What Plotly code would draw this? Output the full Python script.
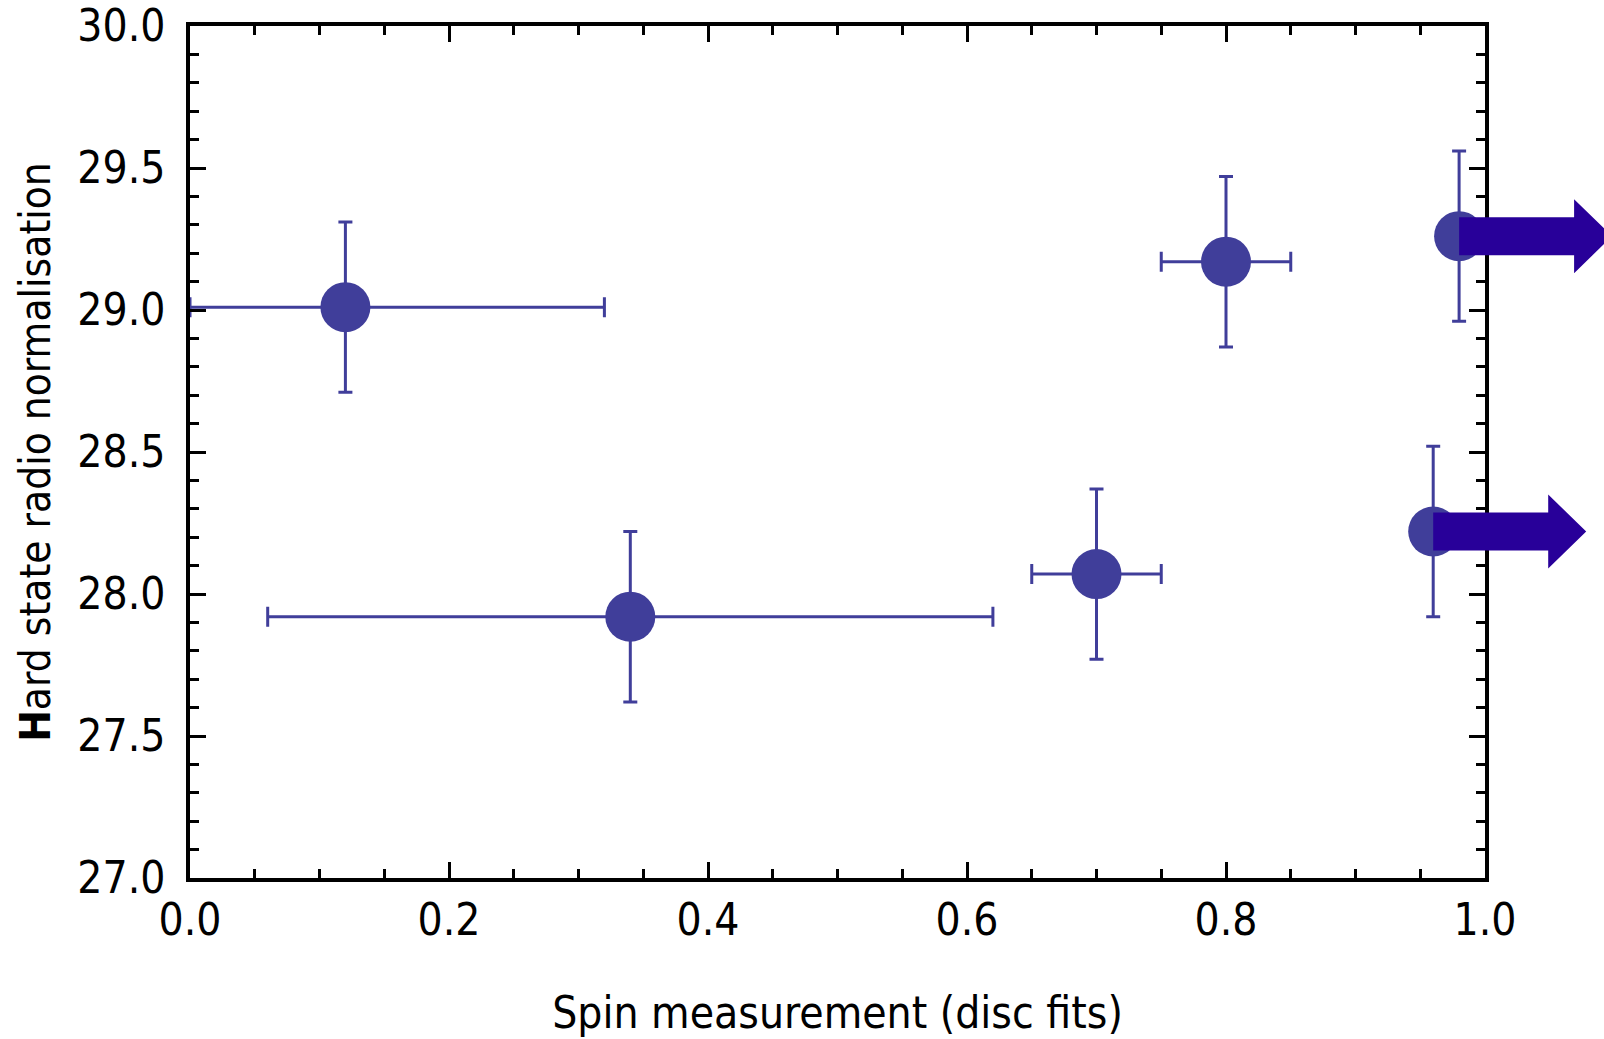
import plotly.graph_objects as go

# Data
spin = [0.12, 0.34, 0.70, 0.80]
spin_err_minus = [0.12, 0.28, 0.05, 0.05]
spin_err_plus = [0.20, 0.28, 0.05, 0.05]
norm = [29.01, 27.92, 28.07, 29.17]
norm_err = [0.30, 0.30, 0.30, 0.30]

# Lower limits on spin (arrows pointing right)
lim_spin = [0.98, 0.96]
lim_norm = [29.26, 28.22]
lim_norm_err = [0.30, 0.30]

x_range = [0.0, 1.0]
y_range = [27.0, 30.0]
x_ticks = [0.0, 0.2, 0.4, 0.6, 0.8, 1.0]
y_ticks = [27.0, 27.5, 28.0, 28.5, 29.0, 29.5, 30.0]

PT = "#403e9a"
ARROW = "#280099"
FONT = "Liberation Sans Narrow, DejaVu Sans Condensed, Arial Narrow, sans-serif"

fig = go.Figure()
fig.add_trace(go.Scatter(
    x=spin, y=norm, mode="markers",
    marker=dict(size=50, color=PT),
    error_x=dict(type="data", symmetric=False, array=spin_err_plus,
                 arrayminus=spin_err_minus, color=PT, thickness=3, width=10),
    error_y=dict(type="data", array=norm_err, color=PT, thickness=3, width=7),
    showlegend=False,
))
fig.add_trace(go.Scatter(
    x=lim_spin, y=lim_norm, mode="markers",
    marker=dict(size=50, color=PT),
    error_y=dict(type="data", array=lim_norm_err, color=PT, thickness=3, width=7),
    showlegend=False,
))

# Arrows anchored at the limit points (pixel-sized shapes)
for xv, yv in zip(lim_spin, lim_norm):
    px = (xv - x_range[0]) / (x_range[1] - x_range[0])
    py = (yv - y_range[0]) / (y_range[1] - y_range[0])
    path = "M0,19 L115,19 L115,37 L153,0 L115,-37 L115,-19 L0,-19 Z"
    fig.add_shape(type="path", xref="paper", yref="paper",
                  xsizemode="pixel", ysizemode="pixel",
                  xanchor=px, yanchor=py, path=path,
                  fillcolor=ARROW, line=dict(width=0), layer="above")

axis_common = dict(
    showline=True, linecolor="black", linewidth=3.5, mirror="ticks",
    ticks="inside", tickcolor="black", tickwidth=3, ticklen=16,
    showgrid=False, zeroline=False, tickformat=".1f", automargin=False,
    tickfont=dict(family=FONT, size=44, color="black"),
)

fig.update_xaxes(
    range=x_range, tickvals=x_ticks,
    minor=dict(dtick=0.05, ticks="inside", ticklen=9, tickwidth=3, tickcolor="black"),
    title=dict(text="Spin measurement (disc fits)",
               font=dict(family=FONT, size=44, color="black"), standoff=55),
    **axis_common,
)
fig.update_yaxes(
    range=y_range, tickvals=y_ticks,
    minor=dict(dtick=0.1, ticks="inside", ticklen=9, tickwidth=3, tickcolor="black"),
    title=dict(text="<b>H</b>ard state radio normalisation",
               font=dict(family=FONT, size=42, color="black"), standoff=15),
    ticklabelstandoff=12,
    **axis_common,
)

fig.update_layout(
    width=1604, height=1039,
    margin=dict(l=190, r=119, t=26, b=161),
    paper_bgcolor="white", plot_bgcolor="white",
)

fig.write_html("out.html")
